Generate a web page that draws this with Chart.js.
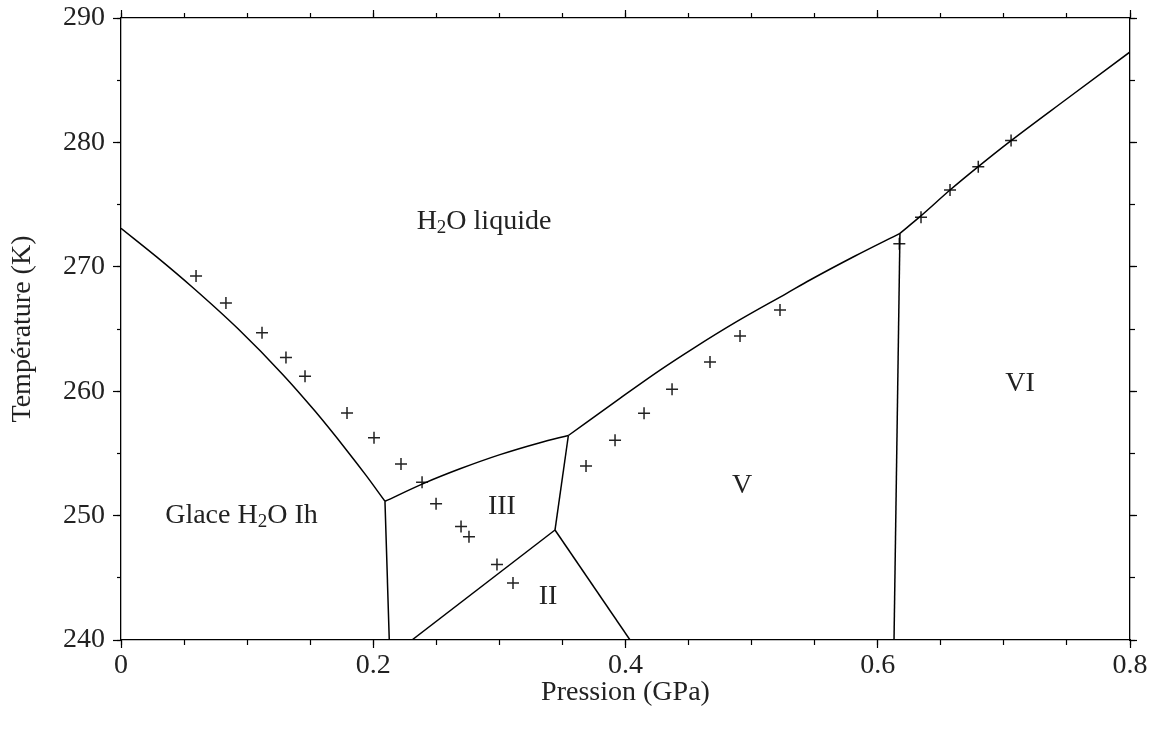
<!DOCTYPE html>
<html>
<head>
<meta charset="utf-8">
<script src="https://cdn.jsdelivr.net/npm/chart.js@4.4.0/dist/chart.umd.min.js"></script>
<style>
  html, body { margin: 0; padding: 0; background: #fff; }
  canvas { display: block; }
</style>
</head>
<body>
<canvas id="c" width="1154" height="731"></canvas>
<script>
// Water phase diagram: pressure (GPa) against temperature (K)
const FONT = "'Liberation Serif', 'Times New Roman', serif";

// Axis tick labels
const xTickLabels = ['0', '0.2', '0.4', '0.6', '0.8'];
const yTickLabels = ['240', '250', '260', '270', '280', '290'];

// Melting curve of ice Ih
const ihLiquidP = [0, 0.0285, 0.0571, 0.0928, 0.1284, 0.1538, 0.1792, 0.1943, 0.2093];
const ihLiquidT = [273.10, 270.78, 268.32, 265.02, 261.33, 258.40, 255.22, 253.23, 251.15];

// Ice Ih / ice III
const ihIIIP = [0.2093, 0.2127];
const ihIIIT = [251.15, 240.0];

// Melting curve of ice III
const iiiLiquidP = [0.2093, 0.2410, 0.2688, 0.3005, 0.3322, 0.3547];
const iiiLiquidT = [251.15, 252.63, 253.76, 254.90, 255.86, 256.44];

// Ice III / ice V
const iiiVP = [0.3547, 0.3441];
const iiiVT = [256.44, 248.84];

// Ice II / ice III
const iiIIIP = [0.2307, 0.3441];
const iiIIIT = [240.0, 248.84];

// Ice II / ice V
const iiVP = [0.3441, 0.4036];
const iiVT = [248.84, 240.0];

// Melting curve of ice V
const vLiquidP = [0.3547, 0.3956, 0.4274, 0.4538, 0.4881, 0.5278, 0.5463, 0.5820, 0.6176];
const vLiquidT = [256.44, 259.43, 261.70, 263.45, 265.59, 267.87, 268.94, 270.87, 272.69];

// Ice V / ice VI
const vVIP = [0.6176, 0.6129];
const vVIT = [272.69, 240.0];

// Melting curve of ice VI
const viLiquidP = [0.6176, 0.6335, 0.6573, 0.6797, 0.7057, 0.7498, 0.8000];
const viLiquidT = [272.69, 274.03, 276.17, 278.05, 280.14, 283.49, 287.27];

// Measured points
const measuredP = [0.0595, 0.0832, 0.1118, 0.1308, 0.1459, 0.1792, 0.2006, 0.2220, 0.2387, 0.2498,
                   0.2696, 0.2759, 0.2981, 0.3108, 0.3687, 0.3917, 0.4147, 0.4369, 0.4670, 0.4908,
                   0.5225, 0.6171, 0.6343, 0.6573, 0.6797, 0.7057];
const measuredT = [269.26, 267.09, 264.70, 262.70, 261.20, 258.24, 256.25, 254.15, 252.69, 250.95,
                   249.13, 248.30, 246.06, 244.58, 253.99, 256.05, 258.23, 260.15, 262.35, 264.44,
                   266.53, 271.85, 273.99, 276.17, 278.05, 280.15];

// Phase region labels ('_' marks a subscript run)
const regionNames = [['H', '_2', 'O liquide'], ['Glace H', '_2', 'O Ih'], ['III'], ['II'], ['V'], ['VI']];
const regionP = [0.2878, 0.0955, 0.3020, 0.3386, 0.4924, 0.7128];
const regionT = [273.60, 249.97, 250.70, 243.48, 252.40, 260.60];

const zip = (xs, ys) => xs.map((x, i) => ({ x: x, y: ys[i] }));

function boundary(p, t, curved) {
  return {
    data: zip(p, t),
    showLine: true,
    borderColor: '#000',
    borderWidth: 1.5,
    pointRadius: 0,
    pointHoverRadius: 0,
    fill: false,
    tension: 0,
    cubicInterpolationMode: curved ? 'monotone' : 'default'
  };
}

const datasets = [
  boundary(ihLiquidP, ihLiquidT, true),
  boundary(ihIIIP, ihIIIT, false),
  boundary(iiiLiquidP, iiiLiquidT, true),
  boundary(iiiVP, iiiVT, false),
  boundary(iiIIIP, iiIIIT, false),
  boundary(iiVP, iiVT, false),
  boundary(vLiquidP, vLiquidT, true),
  boundary(vVIP, vVIT, false),
  boundary(viLiquidP, viLiquidT, true),
  {
    data: zip(measuredP, measuredT),
    showLine: false,
    pointStyle: 'cross',
    pointRadius: 6,
    pointHoverRadius: 6,
    borderColor: '#222',
    borderWidth: 1.5,
    backgroundColor: '#222'
  }
];

const tickFont = { family: FONT, size: 28, lineHeight: 1.1 };
const ink = '#222';

function majorGrid(len) {
  return { drawOnChartArea: false, drawTicks: true, tickLength: len, tickColor: '#000', tickWidth: 1.2 };
}

// Drop the label overhang padding so the plot box keeps its fixed edges
function fixWidth(w) {
  return s => { s.width = w; s.paddingTop = 0; s.paddingBottom = 0; };
}
function fixHeight(h) {
  return s => { s.height = h; s.paddingLeft = 0; s.paddingRight = 0; };
}

// Region label painter
const regionLabels = {
  id: 'regionLabels',
  afterDatasetsDraw(chart) {
    const { ctx, scales } = chart;
    ctx.save();
    ctx.fillStyle = ink;
    ctx.textBaseline = 'middle';
    ctx.textAlign = 'left';
    const big = '28px ' + FONT;
    const small = '19px ' + FONT;
    regionNames.forEach((parts, i) => {
      const cx = scales.x.getPixelForValue(regionP[i]);
      const cy = scales.y.getPixelForValue(regionT[i]);
      let total = 0;
      const widths = parts.map(s => {
        const sub = s.startsWith('_');
        ctx.font = sub ? small : big;
        const w = ctx.measureText(sub ? s.slice(1) : s).width;
        total += w;
        return w;
      });
      let x = cx - total / 2;
      parts.forEach((s, k) => {
        const sub = s.startsWith('_');
        ctx.font = sub ? small : big;
        ctx.fillText(sub ? s.slice(1) : s, x, sub ? cy + 6 : cy);
        x += widths[k];
      });
    });
    ctx.restore();
  }
};

new Chart(document.getElementById('c'), {
  type: 'scatter',
  data: { datasets: datasets },
  plugins: [regionLabels],
  options: {
    responsive: false,
    animation: false,
    events: [],
    layout: { padding: 0 },
    plugins: { legend: { display: false }, tooltip: { enabled: false } },
    scales: {
      x: {
        type: 'linear', position: 'bottom', weight: 1, min: 0, max: 0.8,
        ticks: {
          stepSize: 0.2, autoSkip: false, maxRotation: 0, padding: 2,
          font: tickFont, color: ink,
          callback: v => xTickLabels[Math.round(v / 0.2)]
        },
        grid: majorGrid(8),
        border: { display: true, color: '#000', width: 1.3 },
        title: { display: true, text: 'Pression (GPa)', font: tickFont, color: ink, padding: { top: 0, bottom: 23 } },
        afterFit: fixHeight(91)
      },
      xMinor: {
        type: 'linear', position: 'bottom', weight: 0, min: 0, max: 0.8,
        ticks: { stepSize: 0.05, display: false },
        grid: majorGrid(5),
        border: { display: false },
        afterFit: fixHeight(0)
      },
      xTop: {
        type: 'linear', position: 'top', weight: 1, min: 0, max: 0.8,
        ticks: { stepSize: 0.2, display: false },
        grid: majorGrid(8),
        border: { display: true, color: '#000', width: 1.3 },
        afterFit: fixHeight(18)
      },
      xTopMinor: {
        type: 'linear', position: 'top', weight: 0, min: 0, max: 0.8,
        ticks: { stepSize: 0.05, display: false },
        grid: majorGrid(5),
        border: { display: false },
        afterFit: fixHeight(0)
      },
      y: {
        type: 'linear', position: 'left', weight: 1, min: 240, max: 290,
        ticks: {
          stepSize: 10, autoSkip: false, padding: 8,
          font: tickFont, color: ink,
          callback: v => yTickLabels[Math.round((v - 240) / 10)]
        },
        grid: majorGrid(8),
        border: { display: true, color: '#000', width: 1.3 },
        title: { display: true, text: 'Température (K)', font: tickFont, color: ink, padding: { top: 7, bottom: 0 } },
        afterFit: fixWidth(121)
      },
      yMinor: {
        type: 'linear', position: 'left', weight: 0, min: 240, max: 290,
        ticks: { stepSize: 5, display: false },
        grid: majorGrid(4),
        border: { display: false },
        afterFit: fixWidth(0)
      },
      yRight: {
        type: 'linear', position: 'right', weight: 1, min: 240, max: 290,
        ticks: { stepSize: 10, display: false },
        grid: majorGrid(7),
        border: { display: true, color: '#000', width: 1.3 },
        afterFit: fixWidth(24)
      },
      yRightMinor: {
        type: 'linear', position: 'right', weight: 0, min: 240, max: 290,
        ticks: { stepSize: 5, display: false },
        grid: majorGrid(5),
        border: { display: false },
        afterFit: fixWidth(0)
      }
    }
  }
});
</script>
</body>
</html>
